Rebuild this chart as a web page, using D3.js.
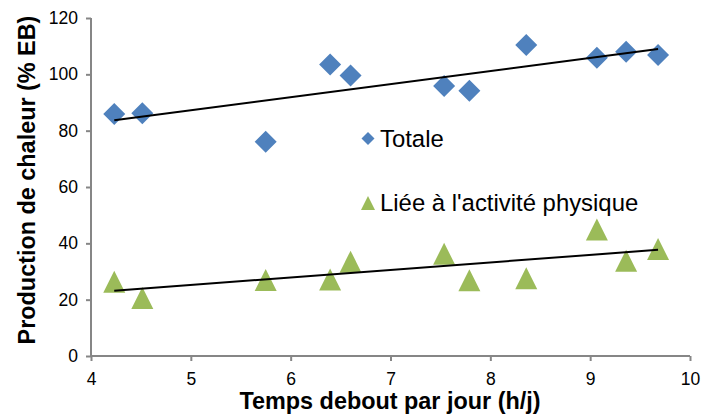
<!DOCTYPE html>
<html><head><meta charset="utf-8">
<script src="https://cdn.jsdelivr.net/npm/d3@7"></script>
<style>body{margin:0;background:#fff}svg{display:block;font-family:"Liberation Sans",Arial,sans-serif}</style>
</head><body>
<svg id="c" width="702" height="418"></svg>
<script>
const standingHours = [4.233, 4.514, 5.75, 6.395, 6.6, 7.537, 7.79, 8.36, 9.067, 9.36, 9.68];
const totale = [85.9, 86.2, 76.1, 103.5, 99.6, 95.9, 94.2, 110.4, 105.9, 108.0, 106.9];
const activite = [26.4, 20.6, 27.0, 27.2, 33.5, 36.3, 26.9, 27.6, 44.9, 33.8, 38.0];
const xTicks = [4, 5, 6, 7, 8, 9, 10];
const yTicks = [0, 20, 40, 60, 80, 100, 120];
const seriesNames = ["Totale", "Liée à l'activité physique"];
const xTitle = "Temps debout par jour (h/j)";
const yTitle = "Production de chaleur (% EB)";

const svg = d3.select("#c");
const x = d3.scaleLinear().domain([4, 10]).range([91, 690]);
const y = d3.scaleLinear().domain([0, 120]).range([356, 18]);
const axisColor = "#868686";

function regress(xs, ys) {
  const mx = d3.mean(xs), my = d3.mean(ys);
  let sxy = 0, sxx = 0;
  xs.forEach((v, i) => { sxy += (v - mx) * (ys[i] - my); sxx += (v - mx) ** 2; });
  const b = sxy / sxx;
  return v => my + b * (v - mx);
}
const diamond = r => `M0,${-r}L${r},0L0,${r}L${-r},0Z`;
const triangle = r => `M0,${-r}L${r},${r}L${-r},${r}Z`;

// axes
const yAxis = svg.append("g").attr("transform", "translate(91,0)")
  .call(d3.axisLeft(y).tickValues(yTicks).tickFormat(d3.format("d")).tickSize(5).tickPadding(8));
const xAxis = svg.append("g").attr("transform", "translate(0,356)")
  .call(d3.axisBottom(x).tickValues(xTicks).tickFormat(d3.format("d")).tickSize(5).tickPadding(12));
[yAxis, xAxis].forEach(g => {
  g.select(".domain").attr("stroke", axisColor).attr("stroke-width", 2)
    .attr("d", g === yAxis ? "M0,18V356" : "M91,0H690");
  g.selectAll(".tick line").attr("stroke", axisColor).attr("stroke-width", 2);
  g.selectAll(".tick text").attr("fill", "#000").attr("font-size", 17.5)
    .attr("font-family", "Liberation Sans, Arial, sans-serif");
});
xAxis.selectAll(".tick text").attr("dy", "0.71em");

// titles
svg.append("text").attr("x", 390).attr("y", 409).attr("text-anchor", "middle")
  .attr("font-weight", "bold").attr("font-size", 23.4).text(xTitle);
svg.append("text").attr("transform", "translate(35,180) rotate(-90)").attr("text-anchor", "middle")
  .attr("font-weight", "bold").attr("font-size", 23.4).text(yTitle);

const data = [
  {vals: totale, color: "#4F81BD", sym: diamond, r: 11, legR: 6.5},
  {vals: activite, color: "#9BBB59", sym: triangle, r: 11, legR: 7}
];

data.forEach(s => {
  const f = regress(standingHours, s.vals);
  const x0 = d3.min(standingHours), x1 = d3.max(standingHours);
  svg.append("g").selectAll("path").data(standingHours).join("path")
    .attr("d", s.sym(s.r))
    .attr("transform", (d, i) => `translate(${x(d)},${y(s.vals[i])})`)
    .attr("fill", s.color);
  svg.append("line").attr("x1", x(x0)).attr("y1", y(f(x0)))
    .attr("x2", x(x1)).attr("y2", y(f(x1)))
    .attr("stroke", "#000").attr("stroke-width", 2);
});

// legend
const leg = [{y: 138.5, base: 146.5}, {y: 203, base: 211}];
data.forEach((s, i) => {
  svg.append("path").attr("d", s.sym(s.legR))
    .attr("transform", `translate(368,${leg[i].y})`).attr("fill", s.color);
  svg.append("text").attr("x", 380).attr("y", leg[i].base).attr("font-size", 23.9)
    .attr("fill", "#000").text(seriesNames[i]);
});
</script>
</body></html>
